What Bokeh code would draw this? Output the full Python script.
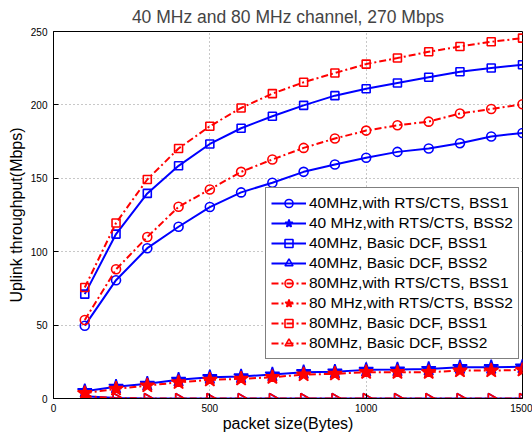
import numpy as np
from bokeh.plotting import figure
from bokeh.models import Range1d, FixedTicker, Legend
from bokeh.embed import file_html
from bokeh.resources import INLINE

packet_size = [100, 200, 300, 400, 500, 600, 700, 800, 900, 1000, 1100, 1200, 1300, 1400, 1500]

rts40_bss1 = [49.6, 80.6, 102.4, 117, 130.4, 140.4, 147, 154.4, 159.4, 164, 168, 170.3, 173.9, 178.5, 180.9]
rts40_bss2 = [5, 8, 10, 12.7, 14.5, 15, 16.3, 17.9, 18.3, 19.5, 19.7, 20.1, 21.3, 21.3, 21.7]
dcf40_bss1 = [71.1, 112, 139.7, 158.5, 173.4, 184.1, 192.3, 199.7, 206.3, 211, 214.9, 218.8, 222.6, 225.1, 227.3]
dcf40_bss2 = [1.5, 0.3, 0, 0, 0, 0, 0, 0, 0, 0, 0, 0, 0, 0, 0]
rts80_bss1 = [53.5, 88, 110, 130.6, 142.4, 154.4, 162.8, 170.7, 177.1, 182.5, 186.1, 188.6, 194.1, 197.2, 200.4]
rts80_bss2 = [3.6, 6.6, 8.8, 11, 12.7, 13.4, 14.5, 16.3, 16.8, 17.9, 17.9, 17.9, 19, 19, 19.5]
dcf80_bss1 = [75.6, 119.6, 149.2, 170.3, 185.5, 197.9, 207.7, 215.4, 221.7, 227.8, 231.9, 236.2, 239.8, 243, 245.5]
dcf80_bss2 = [1.5, 0.3, 0, 0, 0, 0, 0, 0, 0, 0, 0, 0, 0, 0, 0]

labels = [
    "40MHz,with RTS/CTS, BSS1",
    "40 MHz,with RTS/CTS, BSS2",
    "40MHz, Basic DCF, BSS1",
    "40MHz, Basic DCF, BSS2",
    "80MHz,with RTS/CTS, BSS1",
    "80 MHz,with RTS/CTS, BSS2",
    "80MHz, Basic DCF, BSS1",
    "80MHz, Basic DCF, BSS2",
]
x_ticks = [0, 500, 1000, 1500]
y_ticks = [0, 50, 100, 150, 200, 250]
title_text = "40 MHz and 80 MHz channel, 270 Mbps"
x_label = "packet size(Bytes)"
y_label = "Uplink throughput(Mbps)"

FONT = "Liberation Sans"

p = figure(width=532, height=438, output_backend="svg", toolbar_location=None,
           x_range=Range1d(0, 1500), y_range=Range1d(0, 250),
           min_border_left=53, min_border_right=10, min_border_top=30, min_border_bottom=40)

p.title.text = title_text
p.title.text_font = FONT
p.title.text_font_size = "17.5px"
p.title.text_font_style = "normal"
p.title.align = "center"
p.title.offset = 0
p.title.standoff = 9

p.outline_line_color = "black"
p.outline_line_width = 1
p.outline_line_alpha = 1

for ax in (p.xaxis[0], p.yaxis[0]):
    ax.major_tick_in = 5
    ax.major_tick_out = 0
    ax.minor_tick_in = 0
    ax.minor_tick_out = 0
    ax.axis_line_color = "black"
    ax.major_tick_line_color = "black"
    ax.major_label_text_font = FONT
    ax.major_label_text_font_size = "10px"
    ax.major_label_text_color = "black"
    ax.axis_label_text_font = FONT
    ax.axis_label_text_font_size = "16px"
    ax.axis_label_text_font_style = "normal"
    ax.axis_label_text_color = "black"

p.xaxis[0].ticker = FixedTicker(ticks=x_ticks)
p.yaxis[0].ticker = FixedTicker(ticks=y_ticks)
p.yaxis[0].axis_label = y_label
p.xaxis[0].axis_label = x_label
p.xaxis[0].major_label_standoff = 5
p.yaxis[0].major_label_standoff = 6
p.yaxis[0].axis_label_standoff = 3
p.xaxis[0].axis_label_standoff = 0

for g in (p.xgrid[0], p.ygrid[0]):
    g.grid_line_color = "#777777"
    g.grid_line_dash = "1 3"
    g.grid_line_width = 1
    g.grid_line_alpha = 0.8

BLUE = "#0000ff"
RED = "#ff0000"
RDASH = "7 3 2 3"

series = [
    (rts40_bss1, BLUE, "solid", "circle", 9, False, 0),
    (rts40_bss2, BLUE, "solid", "star", 15, True, 0),
    (dcf40_bss1, BLUE, "solid", "square", 8, False, 0),
    (dcf40_bss2, BLUE, "solid", "triangle", 10, False, -np.pi / 2),
    (rts80_bss1, RED, RDASH, "circle", 9, False, 0),
    (rts80_bss2, RED, RDASH, "star", 15, True, 0),
    (dcf80_bss1, RED, RDASH, "square", 8, False, 0),
    (dcf80_bss2, RED, RDASH, "triangle", 10, False, -np.pi / 2),
]

items = []
for (vals, col, dash, marker, size, filled, ang), lab in zip(series, labels):
    r1 = p.line(packet_size, vals, line_color=col, line_width=2, line_dash=dash)
    r2 = p.scatter(packet_size, vals, marker=marker, size=size, angle=ang,
                   line_color=col, line_width=1.6,
                   fill_color=col if filled else None)
    items.append((lab, [r1, r2]))

legend = Legend(items=items, location=(212, 39))
legend.label_text_font = FONT
legend.label_text_font_size = "15.5px"
legend.label_text_color = "black"
legend.glyph_width = 35
legend.glyph_height = 20
legend.spacing = 0
legend.padding = 5
legend.margin = 0
legend.label_standoff = 3
legend.label_height = 20
legend.border_line_color = "black"
legend.border_line_width = 1
legend.background_fill_alpha = 1
p.add_layout(legend, "center")

open("out.html", "w").write(file_html(p, INLINE))
